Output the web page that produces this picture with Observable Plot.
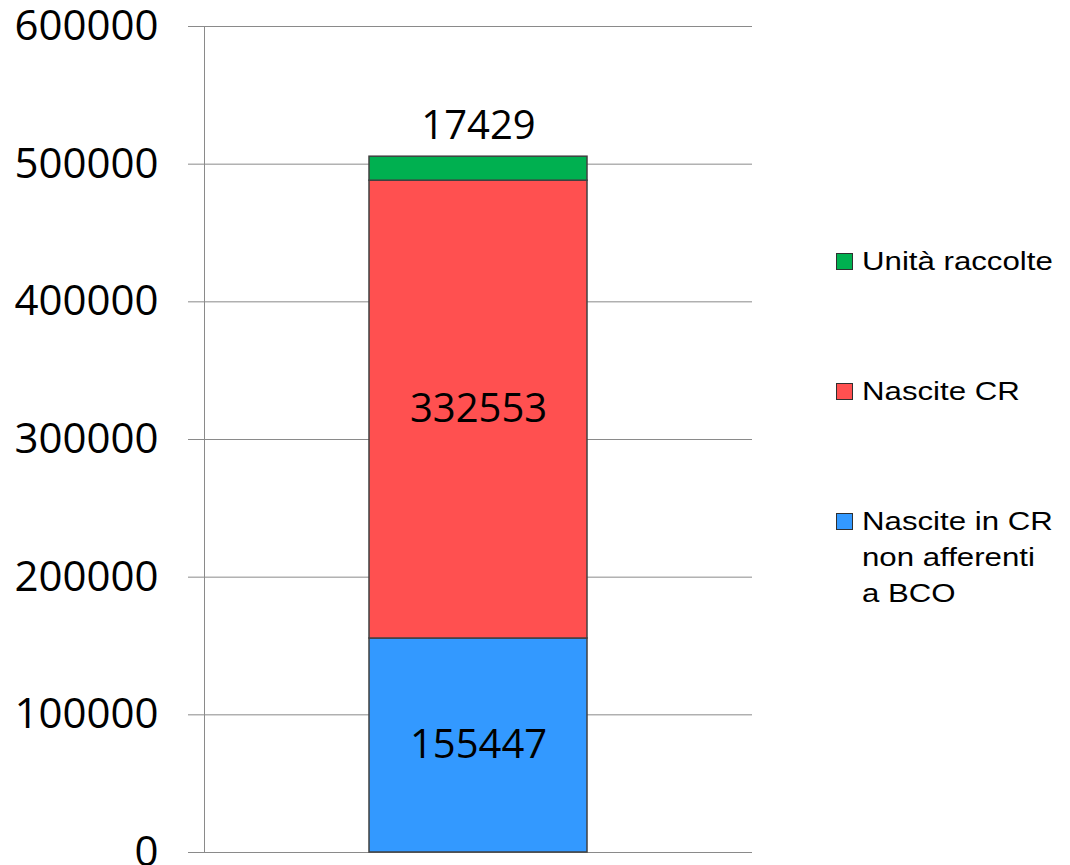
<!DOCTYPE html>
<html>
<head>
<meta charset="utf-8">
<script src="https://cdn.jsdelivr.net/npm/d3@7"></script>
<script src="https://cdn.jsdelivr.net/npm/@observablehq/plot@0.6"></script>
<style>
  html, body { margin: 0; padding: 0; background: white; overflow: hidden; }
  #wrap { position: relative; width: 1070px; height: 865px; }
  #legend { position: absolute; left: 836px; top: 0; font-family: "Liberation Sans", Arial, sans-serif; font-size: 26px; color: #000; }
  .item { position: absolute; left: 0; white-space: nowrap; }
  .sw { position: absolute; left: 0; width: 15px; height: 15px; border: 1px solid #303030; }
  .lbl { position: absolute; left: 26px; line-height: 36px; transform: scaleX(1.2); transform-origin: 0 0; }
</style>
</head>
<body>
<div id="wrap"><div id="legend"></div></div>
<script>
const category = [""];
const series = ["Nascite in CR non afferenti a BCO", "Nascite CR", "Unità raccolte"];
const values = [155447, 332553, 17429];
const colors = ["#3399FF", "#FF5050", "#00B050"];
const yTicks = [0, 100000, 200000, 300000, 400000, 500000, 600000];
const legendOrder = ["Unità raccolte", "Nascite CR", "Nascite in CR non afferenti a BCO"];
const legendLines = [["Unità raccolte"], ["Nascite CR"], ["Nascite in CR", "non afferenti", "a BCO"]];

const rows = series.map((s, i) => ({cat: category[0], series: s, value: values[i]}));
const topSeries = series[series.length - 1];

const chart = Plot.plot({
  width: 1070,
  height: 865,
  marginLeft: 204,
  marginRight: 318,
  marginTop: 26,
  marginBottom: 13,
  style: {fontFamily: "'Open Sans', sans-serif", background: "white", color: "black"},
  x: {domain: category, padding: 0.43, axis: null},
  y: {domain: [0, 600000], axis: null},
  color: {domain: series, range: colors},
  marks: [
    Plot.ruleY(yTicks, {stroke: "#8a8a8a", strokeWidth: 1}),
    Plot.axisY({ticks: yTicks, tickSize: 16, tickPadding: 30, tickFormat: d => String(d), fontSize: 42, stroke: "#8a8a8a", fill: "black", label: null}),
    Plot.frame({anchor: "left", stroke: "#8a8a8a"}),
    Plot.barY(rows, {x: "cat", y: "value", fill: "series", stroke: "#404040", strokeWidth: 1.5}),
    Plot.text(rows, Plot.stackY({x: "cat", y: "value", text: d => d.series === topSeries ? null : String(d.value), fontSize: 40, fill: "black"})),
    Plot.text(rows, Plot.stackY2({x: "cat", y: "value", text: d => d.series === topSeries ? String(d.value) : null, fontSize: 40, fill: "black", dy: -31}))
  ]
});
document.getElementById("wrap").prepend(chart);

const legendTops = [243, 373, 503];
const legend = document.getElementById("legend");
legendOrder.forEach((s, i) => {
  const item = document.createElement("div");
  item.className = "item";
  item.style.top = legendTops[i] + "px";
  const sw = document.createElement("div");
  sw.className = "sw";
  sw.style.top = "10px";
  sw.style.background = colors[series.indexOf(s)];
  const lbl = document.createElement("div");
  lbl.className = "lbl";
  lbl.style.top = "0px";
  lbl.innerHTML = legendLines[i].join("<br>");
  item.appendChild(sw);
  item.appendChild(lbl);
  legend.appendChild(item);
});
</script>
</body>
</html>
